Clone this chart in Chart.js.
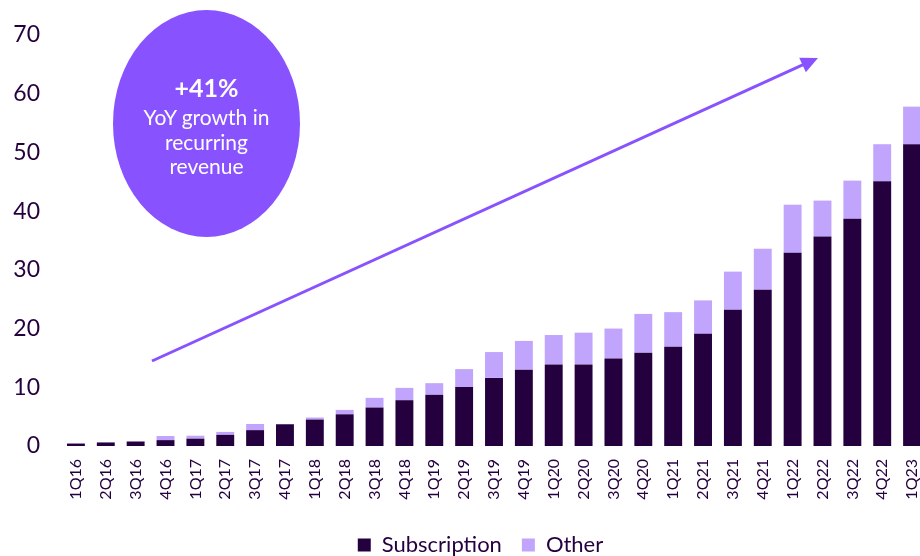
<!DOCTYPE html>
<html>
<head>
<meta charset="utf-8">
<script src="https://cdn.jsdelivr.net/npm/chart.js@4.4.0/dist/chart.umd.min.js"></script>
<style>
  body { margin: 0; background: #fff; }
  #wrap { position: relative; width: 920px; height: 556px; overflow: hidden; }
  #chart { position: absolute; left: 0; top: 0; }
  #bubble {
    position: absolute; left: 113px; top: 10px; width: 187px; height: 227px;
    border-radius: 50%; background: #8952FF; color: #fff;
    font-family: Lato, sans-serif; text-align: center;
  }
  #bubble .big { position: absolute; left: 0; right: 0; top: 62px; font-size: 25px; font-weight: bold; line-height: 30px; }
  #bubble .small { position: absolute; left: 0; right: 0; top: 95px; font-size: 21px; line-height: 24.5px; }
</style>
</head>
<body>
<div id="wrap">
  <canvas id="chart" width="960" height="566"></canvas>
  <div id="bubble">
    <div class="big">+41%</div>
    <div class="small">YoY growth in<br>recurring<br>revenue</div>
  </div>
</div>
<script>
var quarters = ["1Q16","2Q16","3Q16","4Q16","1Q17","2Q17","3Q17","4Q17","1Q18","2Q18","3Q18","4Q18",
  "1Q19","2Q19","3Q19","4Q19","1Q20","2Q20","3Q20","4Q20","1Q21","2Q21","3Q21","4Q21",
  "1Q22","2Q22","3Q22","4Q22","1Q23"];
var subscription = [0.4,0.6,0.75,1.0,1.25,1.9,2.7,3.7,4.5,5.4,6.55,7.8,
  8.75,10.05,11.6,13.0,13.9,13.9,14.9,15.9,16.9,19.1,23.2,26.6,
  32.9,35.7,38.7,45.1,51.4];
var other = [0.1,0.05,0.1,0.7,0.5,0.5,1.05,0.05,0.35,0.75,1.65,2.1,
  1.95,3.05,4.4,4.9,5.0,5.4,5.1,6.6,5.9,5.7,6.5,7.0,
  8.2,6.1,6.5,6.3,6.4];
var yTicks = [0,10,20,30,40,50,60,70];

var darkPurple = "#25003F";
var lightPurple = "#C1A5FD";
var accent = "#8952FF";

// trend arrow drawn over the chart
var arrowPlugin = {
  id: "trendArrow",
  afterDraw: function(chart) {
    var ctx = chart.ctx;
    var x0 = 152, y0 = 361, x1 = 818, y1 = 58;
    var ang = Math.atan2(y1 - y0, x1 - x0);
    ctx.save();
    ctx.strokeStyle = accent;
    ctx.fillStyle = accent;
    ctx.lineWidth = 3;
    ctx.beginPath();
    ctx.moveTo(x0, y0);
    ctx.lineTo(x1 - 12 * Math.cos(ang), y1 - 12 * Math.sin(ang));
    ctx.stroke();
    ctx.beginPath();
    ctx.moveTo(x1, y1);
    ctx.lineTo(x1 - 17 * Math.cos(ang) + 8 * Math.sin(ang), y1 - 17 * Math.sin(ang) - 8 * Math.cos(ang));
    ctx.lineTo(x1 - 17 * Math.cos(ang) - 8 * Math.sin(ang), y1 - 17 * Math.sin(ang) + 8 * Math.cos(ang));
    ctx.closePath();
    ctx.fill();
    ctx.restore();
  }
};

// nudge the legend a bit to the right, like the original
var legendShift = {
  id: "legendShift",
  afterLayout: function(chart) {
    if (chart.legend) {
      chart.legend.left += 17;
      chart.legend.right += 17;
    }
  }
};

var ctx = document.getElementById("chart").getContext("2d");
new Chart(ctx, {
  type: "bar",
  data: {
    labels: quarters,
    datasets: [
      { label: "Subscription", data: subscription, backgroundColor: darkPurple },
      { label: "Other", data: other, backgroundColor: lightPurple }
    ]
  },
  options: {
    responsive: false,
    animation: false,
    devicePixelRatio: 1,
    layout: { padding: { top: 35, right: 33, left: 0, bottom: 0 } },
    datasets: { bar: { barPercentage: 0.6, categoryPercentage: 1 } },
    scales: {
      x: {
        stacked: true,
        grid: { display: false, drawTicks: false },
        border: { display: false },
        ticks: {
          color: darkPurple, minRotation: 90, maxRotation: 90, padding: 13, autoSkip: false,
          font: { family: "Lato", size: 16 }
        },
        afterFit: function(scale) { scale.height = 68; }
      },
      y: {
        stacked: true,
        min: 0, max: 70,
        grid: { display: false, drawTicks: false },
        border: { display: false },
        afterBuildTicks: function(scale) {
          scale.ticks = yTicks.map(function(v) { return { value: v }; });
        },
        ticks: { color: darkPurple, padding: 21, font: { family: "Lato", size: 23 } },
        afterFit: function(scale) { scale.width = 61; }
      }
    },
    plugins: {
      tooltip: { enabled: false },
      legend: {
        position: "bottom",
        labels: {
          color: darkPurple, boxWidth: 13, boxHeight: 13, padding: 20,
          font: { family: "Lato", size: 22, lineHeight: 1 }
        }
      }
    }
  },
  plugins: [arrowPlugin, legendShift]
});
</script>
</body>
</html>
